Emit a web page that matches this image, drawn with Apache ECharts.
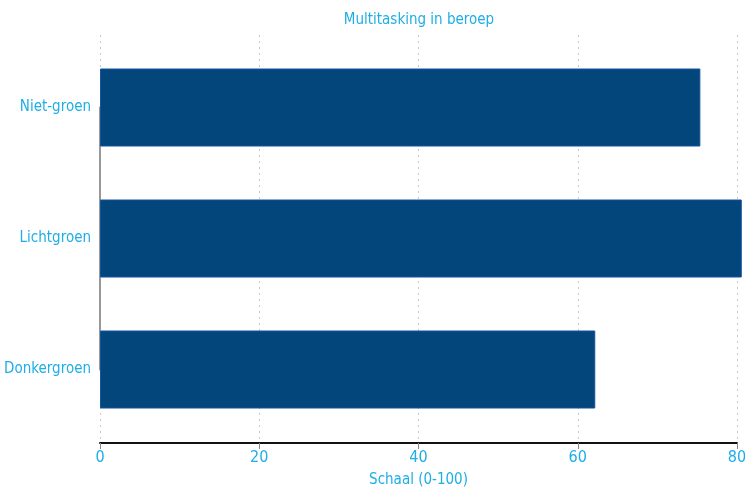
<!DOCTYPE html>
<html>
<head>
<meta charset="utf-8">
<script src="https://cdn.jsdelivr.net/npm/echarts@6/dist/echarts.min.js"></script>
<style>
  html, body { margin: 0; padding: 0; background: #fff; }
  #main { width: 746px; height: 495px; }
</style>
</head>
<body>
<div id="main"></div>
<script>
var categories = ['Donkergroen', 'Lichtgroen', 'Niet-groen'];
var scores = [62.2, 80.6, 75.4];
var xTicks = [0, 20, 40, 60, 80];

var cyan = '#1eaee6';
var font = '"Liberation Sans Narrow", "DejaVu Sans Condensed", "Roboto Condensed", sans-serif';

var chart = echarts.init(document.getElementById('main'));

var option = {
  backgroundColor: '#ffffff',
  title: {
    text: 'Multitasking in beroep',
    left: 414,
    textAlign: 'center',
    top: 8,
    textStyle: { color: cyan, fontSize: 15, fontWeight: 'normal', fontFamily: font }
  },
  grid: [
    // axis + gridlines
    { left: 100, right: 9, top: 35, bottom: 52, outerBoundsMode: 'none', containLabel: false },
    // bars (category centres at the first/last ticks)
    { left: 100, right: 9, top: 107.5, bottom: 125.5, outerBoundsMode: 'none', containLabel: false }
  ],
  xAxis: [
    {
      gridIndex: 0,
      type: 'value',
      min: xTicks[0],
      max: xTicks[xTicks.length - 1],
      interval: 20,
      name: 'Schaal (0-100)',
      nameLocation: 'middle',
      nameGap: 30,
      nameTextStyle: { color: cyan, fontSize: 15, fontFamily: font },
      axisLine: { show: true, lineStyle: { color: '#111', width: 2 } },
      axisTick: { show: true, length: 6, lineStyle: { color: '#888' } },
      axisLabel: { color: cyan, fontSize: 16, fontFamily: font, margin: 7 },
      splitLine: { show: true, lineStyle: { color: '#c8c8c8', type: [2, 4], width: 1 } }
    },
    {
      gridIndex: 1,
      type: 'value',
      min: xTicks[0],
      max: xTicks[xTicks.length - 1],
      show: false
    }
  ],
  yAxis: [
    {
      gridIndex: 0,
      type: 'value',
      show: false
    },
    {
      gridIndex: 1,
      type: 'category',
      data: categories,
      boundaryGap: false,
      axisLine: { show: true, lineStyle: { color: '#999', width: 2 } },
      axisTick: { show: false },
      axisLabel: { color: cyan, fontSize: 15, fontFamily: font, margin: 9 },
      splitLine: { show: false }
    }
  ],
  series: [
    {
      type: 'bar',
      xAxisIndex: 1,
      yAxisIndex: 1,
      data: scores,
      barWidth: 78,
      clip: false,
      itemStyle: { color: '#02467c', borderColor: '#1553a0', borderWidth: 1 }
    }
  ]
};

chart.setOption(option);
</script>
</body>
</html>
